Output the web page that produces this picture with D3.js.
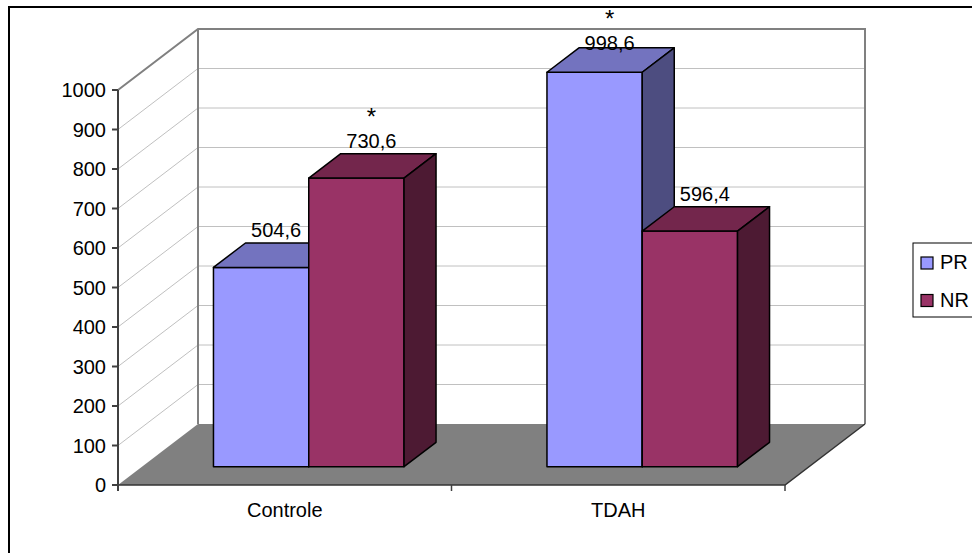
<!DOCTYPE html>
<html>
<head>
<meta charset="utf-8">
<script src="https://cdn.jsdelivr.net/npm/d3@7/dist/d3.min.js"></script>
<style>
  html, body { margin: 0; padding: 0; background: #fff; }
  svg { display: block; font-family: Arial, "Liberation Sans", sans-serif; }
</style>
</head>
<body>
<svg id="chart" width="972" height="553"></svg>
<script>
// Mean values per group and condition
const categories = ["Controle", "TDAH"];
const seriesNames = ["PR", "NR"];
const prValues = [504.6, 998.6];
const nrValues = [730.6, 596.4];
// Significance marks shown above the value labels
const prStars = [false, true];
const nrStars = [true, false];
const yTicks = [0, 100, 200, 300, 400, 500, 600, 700, 800, 900, 1000];

const seriesValues = [prValues, nrValues];
const seriesStars = [prStars, nrStars];
const front = ["#9999FF", "#993366"];
const topShade = ["#7373BF", "#73264C"];
const sideShade = ["#4D4D80", "#4D1A33"];

const svg = d3.select("#chart");

// Plot geometry: front plane and depth vector of the 3-D box
const x0 = 118, x1 = 785, yBase = 485;
const depthDX = 80, depthDY = -61;
const barNear = 0.3, barFar = 0.7;

const y = d3.scaleLinear().domain([0, 1000]).range([0, 395]);
const xCat = d3.scaleBand().domain(categories).range([x0, x1])
  .paddingInner(1.5 / 3.5).paddingOuter(0.75 / 3.5);
const xSer = d3.scaleBand().domain(seriesNames).range([0, xCat.bandwidth()]);

// Project a point from (front-plane x, value, depth fraction) to screen
function P(xf, v, d) {
  return [xf + d * depthDX, yBase - y(v) + d * depthDY];
}
const poly = pts => "M" + pts.map(p => p.join(",")).join("L") + "Z";

const fmt = d3.formatLocale({ decimal: ",", thousands: ".", grouping: [3], currency: ["", ""] }).format(".1f");

// Outer frame
svg.append("rect").attr("x", 9).attr("y", 7).attr("width", 1000).attr("height", 600)
  .attr("fill", "#fff").attr("stroke", "#000").attr("stroke-width", 2);

const yMax = y.domain()[1];

// Back wall
svg.append("path").attr("d", poly([P(x0, 0, 1), P(x1, 0, 1), P(x1, yMax, 1), P(x0, yMax, 1)]))
  .attr("fill", "#fff").attr("stroke", "none");

// Gridlines on side and back walls
const grid = svg.append("g").attr("stroke", "#c0c0c0").attr("stroke-width", 1).attr("fill", "none");
yTicks.filter(t => t > 0 && t < yMax).forEach(t => {
  const a = P(x0, t, 0), b = P(x0, t, 1), c = P(x1, t, 1);
  grid.append("path").attr("d", `M${a}L${b}L${c}`);
});

// Wall outlines
const wall = svg.append("g").attr("stroke", "#808080").attr("stroke-width", 2).attr("fill", "none");
wall.append("path").attr("d", `M${P(x0, yMax, 0)}L${P(x0, yMax, 1)}L${P(x1, yMax, 1)}L${P(x1, 0, 1)}`);
wall.append("path").attr("d", `M${P(x0, yMax, 1)}L${P(x0, 0, 1)}`);

// Floor
svg.append("path").attr("d", poly([P(x0, 0, 0), P(x1, 0, 0), P(x1, 0, 1), P(x0, 0, 1)]))
  .attr("fill", "#808080").attr("stroke", "none");
svg.append("path").attr("d", `M${P(x0, 0, 0)}L${P(x1, 0, 0)}L${P(x1, 0, 1)}`)
  .attr("fill", "none").attr("stroke", "#333").attr("stroke-width", 1.5);

// Bars
const bars = svg.append("g").attr("stroke", "#000").attr("stroke-width", 1.5).attr("stroke-linejoin", "round");
const labels = svg.append("g").attr("font-size", 20).attr("fill", "#000").attr("text-anchor", "middle");

categories.forEach((cat, ci) => {
  seriesNames.forEach((s, si) => {
    const v = seriesValues[si][ci];
    const xl = xCat(cat) + xSer(s), xr = xl + xSer.bandwidth();
    // front face
    bars.append("path").attr("fill", front[si])
      .attr("d", poly([P(xl, 0, barNear), P(xr, 0, barNear), P(xr, v, barNear), P(xl, v, barNear)]));
    // top face
    bars.append("path").attr("fill", topShade[si])
      .attr("d", poly([P(xl, v, barNear), P(xr, v, barNear), P(xr, v, barFar), P(xl, v, barFar)]));
    // right side face
    bars.append("path").attr("fill", sideShade[si])
      .attr("d", poly([P(xr, 0, barNear), P(xr, 0, barFar), P(xr, v, barFar), P(xr, v, barNear)]));

    // value label (with significance mark) above the bar
    const cx = (xl + xr) / 2 + 0.5 * (barNear + barFar) * depthDX - 1;
    let base = P(xl, v, barFar)[1] - 6;
    const star = seriesStars[si][ci];
    if (star) base = Math.max(base, 50);
    labels.append("text").attr("x", cx).attr("y", base).text(fmt(v));
    if (star) {
      labels.append("text").attr("x", cx).attr("y", base - 23)
        .attr("font-size", 24).text("*");
    }
  });
});

// Value axis
const axisG = svg.append("g").attr("stroke", "#404040").attr("stroke-width", 2);
axisG.append("line").attr("x1", x0).attr("x2", x0).attr("y1", yBase - y(yMax)).attr("y2", yBase + 6);
yTicks.forEach(t => {
  axisG.append("line").attr("x1", x0 - 6).attr("x2", x0).attr("y1", yBase - y(t)).attr("y2", yBase - y(t));
});
svg.append("g").attr("font-size", 20).attr("text-anchor", "end").attr("fill", "#000")
  .selectAll("text").data(yTicks).join("text")
  .attr("x", x0 - 12).attr("y", t => yBase - y(t)).attr("dy", "0.35em").text(t => t);

// Category axis ticks and labels
const catEdges = [x0].concat(categories.map(c => xCat(c) + xCat.bandwidth() + xCat.step() * xCat.paddingOuter()));
axisG.selectAll("line.cat").data(catEdges).join("line").attr("class", "cat")
  .attr("x1", d => d).attr("x2", d => d).attr("y1", yBase).attr("y2", yBase + 6).attr("stroke-width", 1.5);
svg.append("g").attr("font-size", 20).attr("text-anchor", "middle").attr("fill", "#000")
  .selectAll("text").data(categories).join("text")
  .attr("x", c => xCat(c) + xCat.bandwidth() / 2).attr("y", 517).text(c => c);

// Legend
const lg = svg.append("g");
lg.append("rect").attr("x", 913).attr("y", 243).attr("width", 100).attr("height", 74)
  .attr("fill", "#fff").attr("stroke", "#000").attr("stroke-width", 1);
seriesNames.forEach((s, i) => {
  const yy = 257 + i * 37.5;
  lg.append("rect").attr("x", 921).attr("y", yy).attr("width", 12).attr("height", 12)
    .attr("fill", front[i]).attr("stroke", "#000").attr("stroke-width", 1.2);
  lg.append("text").attr("x", 940).attr("y", yy + 12).attr("font-size", 20).attr("fill", "#000").text(s);
});
</script>
</body>
</html>
